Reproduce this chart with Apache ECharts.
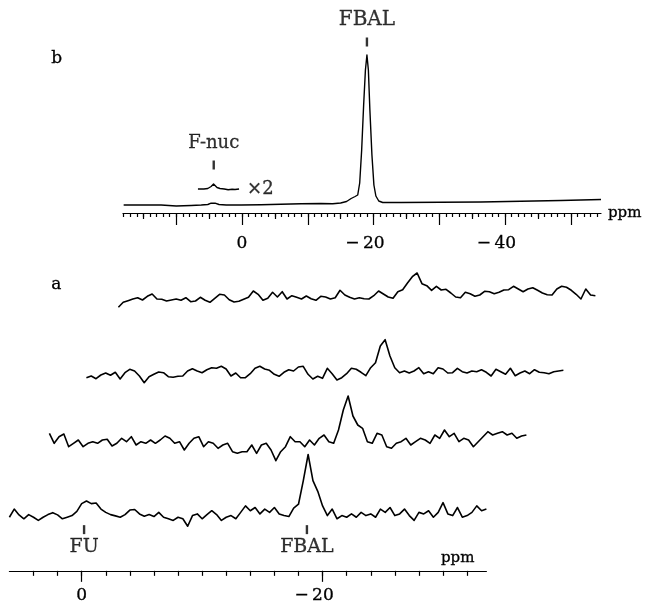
<!DOCTYPE html>
<html>
<head>
<meta charset="utf-8">
<script src="https://cdn.jsdelivr.net/npm/echarts@6/dist/echarts.min.js"></script>
<style>
  html, body { margin: 0; padding: 0; background: #fff; }
  #chart { width: 646px; height: 604px; }
</style>
</head>
<body>
<div id="chart"></div>
<script>
// 19F NMR spectra, chemical shift in ppm (high field to the right)

// ---- panel a: four stacked acquisitions, sampled every 0.4 ppm from +6.0 ppm ----
const A_START = 6.0;
const A_STEP = 0.4;

// earliest spectrum (front, bottom of the stack)
const traceA1 = [
  -1.7, 6.7, 0.7, -3.3, 1, -1.7, -5, -1.7, 1, 3,
  0.7, -3.3, -1.7, 0, 4.3, 12.3, 15, 12.3, 13, 6.7,
  3.3, 1, -0.3, -1.7, 1, 5.7, 6.3, 1.7, -0.7, 1,
  -1, 3.3, -1.7, -3.3, -5, -1.7, -3.3, -11, 0, 1.7,
  -3.3, 1, 5, 1, -5, -1.7, 0, -3.3, 3.3, 10,
  5, 8.3, 1.7, 6.7, 3.3, 8.3, 1.7, 0, -1, 7.7,
  11.7, 36, 63, 36, 25, 10, 0, 6.7, -3.3, 0,
  -1.7, 1.7, -1.7, 3.3, 0, 1.7, -1.7, 6.7, 3.3, 8.3,
  0, 1.7, 6.7, 0, -5, 3.3, 1.7, 5, -1.7, 3.3,
  13.3, 1.7, 0, 8.3, -1.7, 0, 3.3, 10, 5, 6.7
];
const traceA2 = [
  6.7, -3.3, 3.3, 6, -6.7, -3.3, 0, -6.7, -3.3, -1.7,
  -3.3, 0, 0.7, -6, -3.3, 1.7, -1.7, 3.3, -5, -1.7,
  -3.3, 0, -3.3, 0, 4, 1.7, -3.3, -1.7, -10, -3.3,
  1.7, 3.3, -6.7, -1.7, -3.3, -8.3, -5, -3.3, -11.7, -13.3,
  -11.7, -11.7, -5, -13.3, -5, -3.3, -10, -20.7, -11.7, -6.7,
  3.3, -1.7, -1.7, -6.7, 0, -5, 1.7, 5, -1.7, -3.3,
  10, 30, 44, 24, 15, 11.7, -1.7, -3.3, 6.7, 5,
  -6.7, -8.3, -3.3, -1.7, 1.7, -5, -1.7, 1.7, 0, -3.3,
  5, 1.7, 10, 3.3, 6.7, -1.7, 1.7, 0, -6.7, -1.7,
  3.3, 8.3, 5, 6.7, 8.3, 5, 6.7, 1.7, 4, 5
];
const traceA3 = [
  -2.7, -1, -3.7, 0, 2, -0.3, 2.7, -4, 2.3, 5.7,
  4, -1, -7.7, -1.7, 0.7, 3, 2.3, -1.7, -2.3, -1.3,
  -1, 4, 6.3, 4, 2.3, 5.3, 7.3, 6.7, 8.7, 6,
  -1, 2, -2.7, -2.7, 1.3, 6.7, 8.7, 6, 4.7, 0.7,
  -1.3, 2.7, 5.3, 4, 8, 8.7, 0.7, -4, -1.3, -3.3,
  6.7, 1.3, -5, -2.7, 1.3, 6.7, 5.7, 2.7, -0.7, 7.3,
  12.3, 29, 35.3, 19, 7.3, 2.3, 4, 2, 4, 7.3,
  1.3, 3.3, 1.3, 7.3, 6, 2, 2.3, 6.7, 3.3, 2,
  4, 3.3, 5.3, 2.7, -1, 5.7, 3.3, 0.7, 6.7, -0.7,
  2, 4, 1.3, 5.3, 2.7, 2.3, 1.3, 3.3, 4, 4.7
];
// latest spectrum (back, top of the stack)
const traceA4 = [
  -8.3, -3.3, -1.7, 0, 1.3, -1, 2.7, 5, 0, -0.3,
  -2, -1, 0, -1.3, 1.3, -2.7, -2, 1.7, -1.3, -3.3,
  0.7, 4.7, 4, -0.7, -3, -2.3, -0.3, 1.7, 8, 4.7,
  -1.3, 0.7, 6.7, 2, 7.3, 0, 3.3, 1.7, 0, 3,
  0.3, -1.3, 2.7, 2, 0, 1.3, 8.7, 4, 1.7, 0,
  1.3, 0.3, 0, 3.3, 8, 5, 2, 0.7, 7.3, 9.3,
  16, 22.3, 26, 15.3, 13.3, 8.7, 12.7, 9, 9.7, 6,
  2, 1.3, 6.7, 5.3, 2.7, 4, 7.7, 7.3, 5.3, 6.7,
  9, 9.3, 12.7, 10, 7.3, 10, 11.3, 8.7, 6, 4.3,
  4, 10, 12.7, 11.7, 8.7, 4.7, 0, 10, 4, 3.3
];

// ---- panel b: accumulated spectrum, [ppm, intensity] ----
const specB = [
  [18.0, 0], [15.3, 0], [12.3, 0], [10.0, -1], [7.75, -0.5], [6.2, 0],
  [5.2, 0.5], [4.7, 1.8], [4.4, 2.8], [4.1, 1.8], [3.5, 0.5], [2.4, 0],
  [0.15, 0], [-2.9, 0.3], [-5.9, 0.8], [-9.0, 1.2], [-12.0, 1.5], [-13.8, 1.2],
  [-15.0, 2], [-15.9, 3.5], [-16.6, 6.5], [-17.2, 8.5], [-17.6, 10], [-17.9, 22],
  [-18.2, 55], [-18.5, 100], [-18.77, 135], [-19.0, 150], [-19.22, 135], [-19.45, 95],
  [-19.76, 50], [-20.06, 20], [-20.36, 9], [-20.8, 4], [-21.4, 2.5], [-24.2, 2.5],
  [-30.2, 2.8], [-36.3, 3], [-42.4, 3.8], [-48.5, 4.5], [-54.6, 5.5]
];
// F-nuc region drawn again at twice the vertical gain
const specBx2 = [
  [6.7, 0], [5.8, 0], [5.2, 0.5], [4.7, 2.5], [4.33, 5], [4.1, 3.5],
  [3.8, 1.5], [3.35, 0.5], [2.7, 0], [2.1, -0.8], [1.5, -0.3], [1.06, -0.5], [0.45, 0]
];
const gainLabel = '\u00d72';

// peak assignments: name, shift, height of the marker stroke
const marksB = [
  { name: 'FBAL', ppm: -19.0, y: 163 },
  { name: 'F-nuc', ppm: 4.3, y: 40 }
];
const marksA = [
  { name: 'FU', ppm: -0.2, y: -14.5 },
  { name: 'FBAL', ppm: -18.7, y: -14.5 }
];

// labelled shift values on each scale
const labelsB = [0, -20, -40];
const labelsA = [0, -20];

// ------------------------------------------------------------------
const SERIF = '"DejaVu Serif", "Liberation Serif", serif';
const INK = '#000';
const TEXT = { fontFamily: SERIF, color: INK, textBorderColor: INK, textBorderWidth: 0.3 };

function steps(from, to, step, keep) {
  const out = [];
  for (let v = from; v >= to - 1e-9; v -= step) {
    const r = Math.round(v * 10) / 10;
    if (!keep || keep(r)) out.push(r);
  }
  return out;
}
const fmtShift = v => (v < 0 ? '{n|\u2212\u2009' + Math.abs(v) + '}' : String(v));
const shiftRich = { n: Object.assign({ padding: [0, 17, 0, 0], fontSize: 17 }, TEXT) };

const ppmA = traceA1.map((_, i) => +(A_START - A_STEP * i).toFixed(2));
const pairs = arr => arr.map((v, i) => [ppmA[i], v]);

// grid geometry: panel b, its x2 inset, then the four stacked traces of panel a
const B_MIN = -54.6, B_MAX = 18.1;
const A_MIN = -33.6, A_MAX = 6.0;
const grids = [
  { left: 123, top: 25, width: 478, height: 188 },   // b
  { left: 123, top: 9, width: 478, height: 188 },    // b, x2 inset
  { left: 9.4, top: 438, width: 477, height: 137 },  // a, front trace with scale
  { left: 49.4, top: 360, width: 477, height: 100 },
  { left: 86.4, top: 295, width: 477, height: 100 },
  { left: 118.4, top: 219, width: 477, height: 100 }
];
const yRanges = [[-8, 180], [-8, 180], [-57, 80], [-20, 80], [-20, 80], [-20, 80]];

const hiddenX = (gridIndex, min, max) => ({
  type: 'value', gridIndex, inverse: true, min, max, show: false,
  axisLine: { onZero: false }, splitLine: { show: false }
});
const tickAxis = (gridIndex, min, max, values, len, extra) => Object.assign({
  type: 'value', gridIndex, inverse: true, min, max, position: 'bottom',
  axisLine: { show: false, onZero: false },
  axisTick: { show: true, customValues: values, length: len, lineStyle: { color: INK, width: 1.2 } },
  axisLabel: { show: false },
  splitLine: { show: false }
}, extra || {});

const xAxis = [
  // 0-2: panel b scale (1, 5 and 10 ppm ticks)
  tickAxis(0, B_MIN, B_MAX, steps(18, -54, 1), 4, {
    axisLine: { show: true, onZero: false, lineStyle: { color: INK, width: 1.2 } }
  }),
  tickAxis(0, B_MIN, B_MAX, steps(15, -50, 5, v => v % 10 !== 0), 6),
  tickAxis(0, B_MIN, B_MAX, steps(10, -50, 10), 12, {
    axisLabel: Object.assign({
      show: true, customValues: labelsB, margin: 22, formatter: fmtShift, rich: shiftRich, fontSize: 17
    }, TEXT),
    name: 'ppm', nameLocation: 'start', nameGap: 7,
    nameTextStyle: Object.assign({ fontSize: 15, align: 'left', verticalAlign: 'middle' }, TEXT)
  }),
  // 3: inset
  hiddenX(1, B_MIN, B_MAX),
  // 4-5: panel a scale (2 ppm ticks, labelled majors)
  tickAxis(2, A_MIN, A_MAX, steps(4, -32, 2), 5, {
    axisLine: { show: true, onZero: false, lineStyle: { color: INK, width: 1.2 } }
  }),
  tickAxis(2, A_MIN, A_MAX, labelsA, 11, {
    axisLabel: Object.assign({
      show: true, customValues: labelsA, margin: 16, formatter: fmtShift, rich: shiftRich, fontSize: 17
    }, TEXT),
    name: 'ppm', nameLocation: 'start', nameGap: -12,
    nameTextStyle: Object.assign({
      fontSize: 15, align: 'right', verticalAlign: 'bottom', padding: [0, 0, 5, 0]
    }, TEXT)
  }),
  // 6-8: rear traces share the scale, no axis drawn
  hiddenX(3, A_MIN, A_MAX),
  hiddenX(4, A_MIN, A_MAX),
  hiddenX(5, A_MIN, A_MAX)
];

const yAxis = yRanges.map((r, i) => ({
  type: 'value', gridIndex: i, min: r[0], max: r[1], show: false, splitLine: { show: false }
}));

const lineStyle = w => ({ color: INK, width: w, join: 'round' });
const spectrum = (data, xi, yi, w) => ({
  type: 'line', data, xAxisIndex: xi, yAxisIndex: yi, showSymbol: false, symbol: 'none',
  lineStyle: lineStyle(w), clip: false, silent: true, animation: false, z: 3
});

const markerSeries = (marks, xi, yi, labelPos, dist, size) => ({
  type: 'scatter', xAxisIndex: xi, yAxisIndex: yi, silent: true, animation: false,
  symbol: 'rect', symbolSize: [2.4, 9], clip: false,
  itemStyle: { color: INK },
  data: marks.map(m => ({ name: m.name, value: [m.ppm, m.y] })),
  label: Object.assign({
    show: true, position: labelPos, distance: dist, formatter: '{b}', fontSize: size
  }, TEXT)
});

const lastX2 = specBx2[specBx2.length - 1];

const series = [
  spectrum(specB, 0, 0, 1.4),
  spectrum(specBx2, 3, 1, 1.4),
  // gain note beside the end of the inset trace
  {
    type: 'scatter', xAxisIndex: 3, yAxisIndex: 1, silent: true, animation: false,
    symbolSize: 0, clip: false,
    data: [{ name: gainLabel, value: lastX2 }],
    label: Object.assign({
      show: true, position: 'right', distance: 8, formatter: '{b}', fontSize: 18
    }, TEXT)
  },
  markerSeries(marksB.slice(0, 1), 0, 0, 'top', 8, 20),
  markerSeries(marksB.slice(1), 0, 0, 'top', 8, 18),
  spectrum(pairs(traceA1), 4, 2, 1.6),
  spectrum(pairs(traceA2), 6, 3, 1.6),
  spectrum(pairs(traceA3), 7, 4, 1.6),
  spectrum(pairs(traceA4), 8, 5, 1.6),
  markerSeries(marksA, 4, 2, 'bottom', 3, 19)
];

const chart = echarts.init(document.getElementById('chart'), null, { renderer: 'canvas' });
chart.setOption({
  backgroundColor: '#ffffff',
  animation: false,
  grid: grids,
  xAxis,
  yAxis,
  series,
  graphic: [
    { type: 'text', left: 51, top: 50, style: { text: 'b', font: '17px ' + SERIF, fill: INK, stroke: INK, lineWidth: 0.3 } },
    { type: 'text', left: 51, top: 276, style: { text: 'a', font: '17px ' + SERIF, fill: INK, stroke: INK, lineWidth: 0.3 } }
  ]
});
</script>
</body>
</html>
